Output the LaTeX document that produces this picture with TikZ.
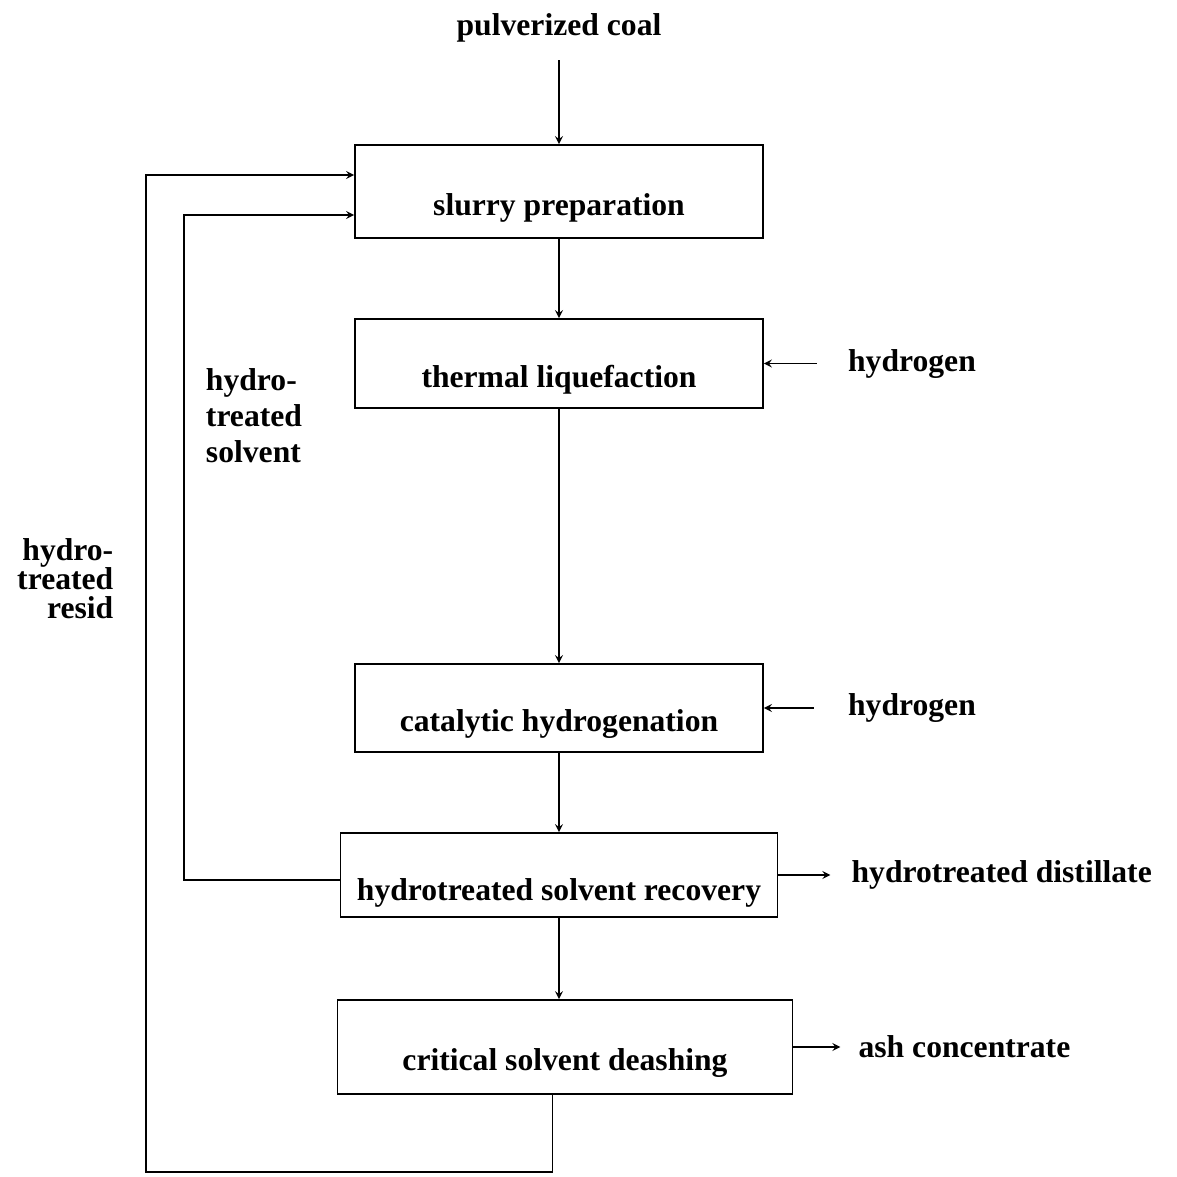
\documentclass[tikz,border=0pt]{standalone}
\usepackage{fontspec}
\setmainfont{Liberation Serif}
\usetikzlibrary{arrows,positioning,calc}

\begin{document}
\begin{tikzpicture}[auto, >=stealth, line width=1pt]
        % Style definitions
        \tikzset{
            block/.style={draw, rectangle, minimum height=1.8cm, minimum width=8.16cm, align=center, text height=1.06cm, text depth=0.12cm, font=\fontsize{18}{20.5}\selectfont\bfseries},
            stream/.style={align=left, font=\fontsize{18}{20.5}\selectfont\bfseries}
        }
        \useasboundingbox (0,0) rectangle (23.54,-23.54);

        % Process units
        \node [block, minimum height=1.86cm] (slurry) at (11.18,-3.83) {slurry preparation};
        \node [block, minimum height=1.78cm, below=1.585cm of slurry] (thermal) {thermal liquefaction};
        \node [block, minimum height=1.76cm, below=5.085cm of thermal] (catal) {catalytic hydrogenation};
        \node [block, minimum height=1.68cm, minimum width=8.74cm, text height=1.12cm, below=1.585cm of catal] (recov) {hydrotreated solvent recovery};
        \node [block, minimum height=1.88cm, minimum width=9.1cm, below=1.625cm of recov, xshift=0.12cm] (deash) {critical solvent deashing};

        % Feeds and products
        \node [stream, above=1.9cm of slurry] (coal) {pulverized coal};
        \node [stream, right=1.55cm of thermal] (hyd1) {hydrogen};
        \node [stream, right=1.55cm of catal] (hyd2) {hydrogen};
        \node [stream, right=1.33cm of recov] (dist) {hydrotreated distillate};
        \node [stream, right=1.17cm of deash] (ash) {ash concentrate};
        \node [stream] (solvlbl) at (5.08,-8.32) {hydro-\\treated\\solvent};
        \node [stream, align=right, anchor=east, font=\fontsize{18}{16.5}\selectfont\bfseries] (residlbl) at (2.4,-11.58) {hydro-\\treated\\resid};

        % Main line
        \draw [->, shorten <=0.22cm] (coal) -- (slurry);
        \draw [->] (slurry) -- (thermal);
        \draw [->] (thermal) -- (catal);
        \draw [->] (catal) -- (recov);
        \draw [->] (recov.south) -- (recov.south |- deash.north);

        % Side streams
        \draw [->, shorten <=0.49cm] (hyd1.west) -- (hyd1.west -| thermal.east);
        \draw [->, shorten <=0.55cm] (hyd2.west) -- (hyd2.west -| catal.east);
        \draw [->, shorten >=0.29cm] (recov.east) -- (recov.east -| dist.west);
        \draw [->, shorten >=0.23cm] (deash.east) -- (deash.east -| ash.west);

        % Recycle loops
        \coordinate (residturn) at (2.92,-23.44);
        \coordinate (solvturn) at (3.68,0);
        \draw [->] ([xshift=-0.25cm]deash.south) |- (residturn) |- ([yshift=0.33cm]slurry.west);
        \draw [->] ([yshift=-0.1cm]recov.west) -| ($(solvturn |- slurry.west)+(0,-0.47)$) -- ([yshift=-0.47cm]slurry.west);
    \end{tikzpicture}
\end{document}
